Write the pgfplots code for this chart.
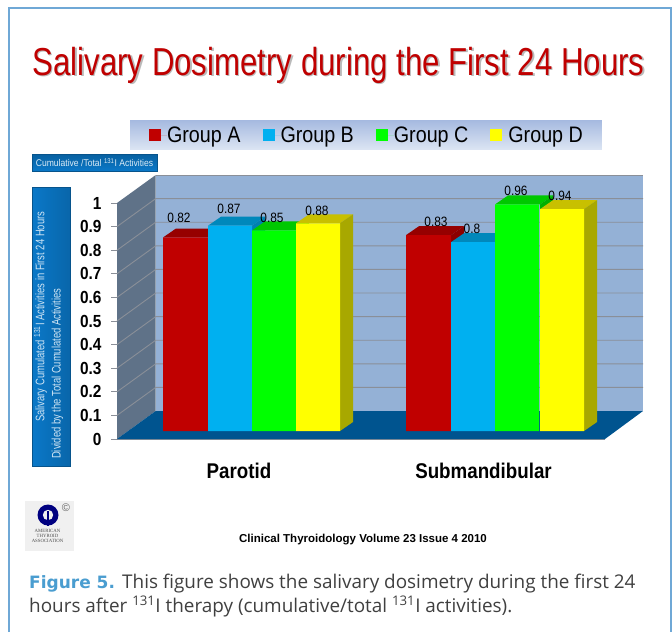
\documentclass[border=0pt]{standalone}
\usepackage{pgfplots}
\pgfplotsset{compat=1.18}
\usepackage{fontspec}
\setmainfont{Liberation Sans}
\newfontfamily\narrowf[FakeStretch=0.88]{Liberation Sans}
\newfontfamily\narrowg[FakeStretch=0.76]{Liberation Sans}
\newfontfamily\titlefont[FakeStretch=0.80]{Liberation Sans}
\newfontfamily\capfont{Open Sans}
\newfontfamily\figfont{DejaVu Sans}
\newfontfamily\tinyserif{Liberation Serif}
\definecolor{barA}{HTML}{C00000}\definecolor{barAt}{HTML}{960000}\definecolor{barAs}{HTML}{8C0000}
\definecolor{barB}{HTML}{00B0F0}\definecolor{barBt}{HTML}{0088BB}\definecolor{barBs}{HTML}{0080B0}
\definecolor{barC}{HTML}{00FF00}\definecolor{barCt}{HTML}{00C800}\definecolor{barCs}{HTML}{00B000}
\definecolor{barD}{HTML}{FFFF00}\definecolor{barDt}{HTML}{C8C000}\definecolor{barDs}{HTML}{A8A800}
\definecolor{wall}{HTML}{94B1D6}\definecolor{lwall}{HTML}{5F7288}\definecolor{floorc}{HTML}{00548F}
\definecolor{gridc}{HTML}{8A8F98}\definecolor{frame}{HTML}{6FA8D6}\definecolor{boxb}{HTML}{0A78C8}
\definecolor{figblue}{HTML}{4A9DD0}
\definecolor{wallTop}{HTML}{A6BAE0}\definecolor{wallBot}{HTML}{DCE5F3}
\newcommand{\depth}[5]{% x, value, width, top colour, side colour
  \addplot[forget plot,fill=#4,draw=none,yshift=8pt] coordinates {(#1,#2) (#1+#3,#2) (#1+#3+13,#2+0.038) (#1+13,#2+0.038)} --cycle;
  \addplot[forget plot,fill=#5,draw=none,yshift=8pt] coordinates {(#1+#3,0) (#1+#3+13,0.038) (#1+#3+13,#2+0.038) (#1+#3,#2)} --cycle;
}
\pgfplotsset{sq/.style={legend image code/.code={\fill[##1] (0pt,-14pt) rectangle (12pt,-2pt);\path (12pt,-8pt) -- (18pt,-8pt);}}}
\begin{document}
\begin{tikzpicture}[x=1pt,y=1pt]
\path[use as bounding box,fill=white] (0,-632) rectangle (672,0);
% frame
\draw[frame,line width=1.4pt] (9,-632) -- (9,-8) -- (671,-8) -- (671,-632);
% title
\node[anchor=base,text=black!45,opacity=.6] at (340,-76.5) {\titlefont\fontsize{39}{39}\selectfont Salivary Dosimetry during the First 24 Hours};
\node[anchor=base,text=barA] at (338.5,-75) {\titlefont\fontsize{39}{39}\selectfont Salivary Dosimetry during the First 24 Hours};
% side boxes
\draw[boxb!70!black,line width=.8pt,top color=boxb!80!black,bottom color=boxb] (32,-154) rectangle (157,-171);
\node[text=white!85!boxb] at (94.5,-162.5) {\narrowf\fontsize{9.75}{9.75}\selectfont Cumulative /Total \textsuperscript{131}I Activities};
\draw[boxb!70!black,line width=.8pt,left color=boxb,right color=boxb!85!black] (32,-187) rectangle (70,-466);
\node[rotate=90,text=white!80!boxb,anchor=west,inner sep=0pt] at (40.5,-422) {\narrowg\fontsize{12.4}{12.4}\selectfont Salivary Cumulated \textsuperscript{131}I Activities in First 24 Hours};
\node[rotate=90,text=white!80!boxb,anchor=west,inner sep=0pt] at (57.5,-459) {\narrowg\fontsize{12.4}{12.4}\selectfont Divided by the Total Cumulated Activities};
% chart
\begin{axis}[
  at={(117pt,-439pt)},anchor=origin,
  scale only axis,width=488pt,height=236pt,
  xmin=0,xmax=488,ymin=0,ymax=1,clip=false,
  axis x line*=bottom,axis y line*=left,
  axis line style={draw=gridc,line width=.9pt,-},
  every tick/.style={draw=gridc,line width=.9pt},
  ytick={0,0.1,0.2,0.3,0.4,0.5,0.6,0.7,0.8,0.9,1},
  /pgf/number format/assume math mode=true,
  /pgf/number format/fixed,/pgf/number format/precision=1,
  yticklabel style={font=\narrowf\bfseries\fontsize{17.5}{17.5}\selectfont,xshift=-6pt},
  tick align=outside,
  major tick length=6pt,
  xtick={122,366.5},xticklabels={Parotid,Submandibular},
  xtick style={draw=none},
  xticklabel style={font=\narrowf\bfseries\fontsize{21.3}{21.3}\selectfont,yshift=-15pt},
  extra x ticks={0,244,488},extra x tick labels={},
  extra x tick style={tick style={draw=gridc,line width=.9pt},major tick length=8pt},
  legend columns=4,
  legend cell align=left,
  legend style={at={(axis cs:249,1.288)},anchor=center,draw=none,
    top color=wallTop,bottom color=wallBot,
    inner xsep=19pt,inner ysep=5pt,
    font=\narrowf\fontsize{22.4}{22.4}\selectfont,
    /tikz/every even column/.append style={column sep=22pt},
    nodes={inner xsep=0pt,inner ysep=1pt,anchor=west}},
]
% back wall, left wall, floor
\addplot[forget plot,fill=wall,draw=none] coordinates {(38.7,0.1186) (38.7,1.1186) (526,1.1186) (526,0.1186)} --cycle;
\addplot[forget plot,fill=lwall,draw=none] coordinates {(0,0) (0,1) (38.7,1.1186) (38.7,0.1186)} --cycle;
\addplot[forget plot,fill=floorc,draw=none] coordinates {(0,0) (38.7,0.1186) (526,0.1186) (488,0)} --cycle;
\addplot[forget plot,draw=gridc,line width=.9pt] coordinates {(38.7,1.1186) (526,1.1186)};
\addplot[forget plot,draw=gridc,line width=.9pt] coordinates {(0,0.1) (38.7,0.2186) (526,0.2186)};
\addplot[forget plot,draw=gridc,line width=.9pt] coordinates {(0,0.2) (38.7,0.3186) (526,0.3186)};
\addplot[forget plot,draw=gridc,line width=.9pt] coordinates {(0,0.3) (38.7,0.4186) (526,0.4186)};
\addplot[forget plot,draw=gridc,line width=.9pt] coordinates {(0,0.4) (38.7,0.5186) (526,0.5186)};
\addplot[forget plot,draw=gridc,line width=.9pt] coordinates {(0,0.5) (38.7,0.6186) (526,0.6186)};
\addplot[forget plot,draw=gridc,line width=.9pt] coordinates {(0,0.6) (38.7,0.7186) (526,0.7186)};
\addplot[forget plot,draw=gridc,line width=.9pt] coordinates {(0,0.7) (38.7,0.8186) (526,0.8186)};
\addplot[forget plot,draw=gridc,line width=.9pt] coordinates {(0,0.8) (38.7,0.9186) (526,0.9186)};
\addplot[forget plot,draw=gridc,line width=.9pt] coordinates {(0,0.9) (38.7,1.0186) (526,1.0186)};
% Group A
\depth{46}{0.82}{45}{barAt}{barAs}
\depth{289}{0.83}{45}{barAt}{barAs}
\addplot[ybar,bar shift=0pt,bar width=45pt,fill=barA,draw=none,sq,yshift=8pt] coordinates {(68.5,0.82) (311.5,0.83)};
\addlegendentry{Group A}
% Group B
\depth{91}{0.87}{44}{barBt}{barBs}
\depth{334}{0.80}{44}{barBt}{barBs}
\addplot[ybar,bar shift=0pt,bar width=44pt,fill=barB,draw=none,sq,yshift=8pt] coordinates {(113,0.87) (356,0.80)};
\addlegendentry{Group B}
% Group C
\depth{135}{0.85}{44}{barCt}{barCs}
\depth{378}{0.96}{45}{barCt}{barCs}
\addplot[ybar,bar shift=0pt,bar width=44pt,fill=barC,draw=none,sq,yshift=8pt] coordinates {(157,0.85) (400,0.96)};
\addlegendentry{Group C}
% Group D
\depth{179}{0.88}{44}{barDt}{barDs}
\depth{423}{0.94}{44}{barDt}{barDs}
\addplot[ybar,bar shift=0pt,bar width=44pt,fill=barD,draw=none,sq,yshift=8pt] coordinates {(201,0.88) (445,0.94)};
\addlegendentry{Group D}
% value labels
\begin{scope}[every node/.style={font=\narrowf\fontsize{13.5}{13.5}\selectfont,inner sep=0pt}]
\node at (axis cs:62,0.939) {0.82};
\node at (axis cs:112,0.977) {0.87};
\node at (axis cs:155,0.936) {0.85};
\node at (axis cs:200,0.966) {0.88};
\node at (axis cs:319,0.919) {0.83};
\node at (axis cs:355,0.89) {0.8};
\node at (axis cs:399,1.05) {0.96};
\node at (axis cs:443,1.03) {0.94};
\end{scope}
\end{axis}
% logo
\fill[black!6] (25,-501) rectangle (74,-551);
\fill[blue!50!black] (48,-515) circle (10.5);
\fill[black!6] (48,-515) circle (5.2);
\fill[blue!50!black] (46.6,-511) rectangle (49.4,-526);
\fill[blue!50!black] (43,-505.5) rectangle (53,-509);
\node[text=black!60,inner sep=0pt] at (66,-508) {\fontsize{11}{11}\selectfont\textcopyright};
\node[align=center,inner sep=0pt,text=black!70,font=\tinyserif\fontsize{4.8}{5.3}\selectfont] at (47.5,-536) {AMERICAN\\THYROID\\ASSOCIATION};
% footer
\node at (363,-540) {\bfseries\fontsize{11.5}{11.5}\selectfont Clinical Thyroidology Volume 23 Issue 4 2010};
% caption
\node[anchor=base west,inner sep=0pt,text=figblue] at (29,-588) {\figfont\bfseries\fontsize{17}{17}\selectfont Figure 5.};
\node[anchor=base west,inner sep=0pt,text=black!75] at (122,-588) {\capfont\fontsize{18.9}{18.9}\selectfont This figure shows the salivary dosimetry during the first 24};
\node[anchor=base west,inner sep=0pt,text=black!75] at (29,-612) {\capfont\fontsize{18.9}{18.9}\selectfont hours after \textsuperscript{131}I therapy (cumulative/total \textsuperscript{131}I activities).};
\end{tikzpicture}
\end{document}
